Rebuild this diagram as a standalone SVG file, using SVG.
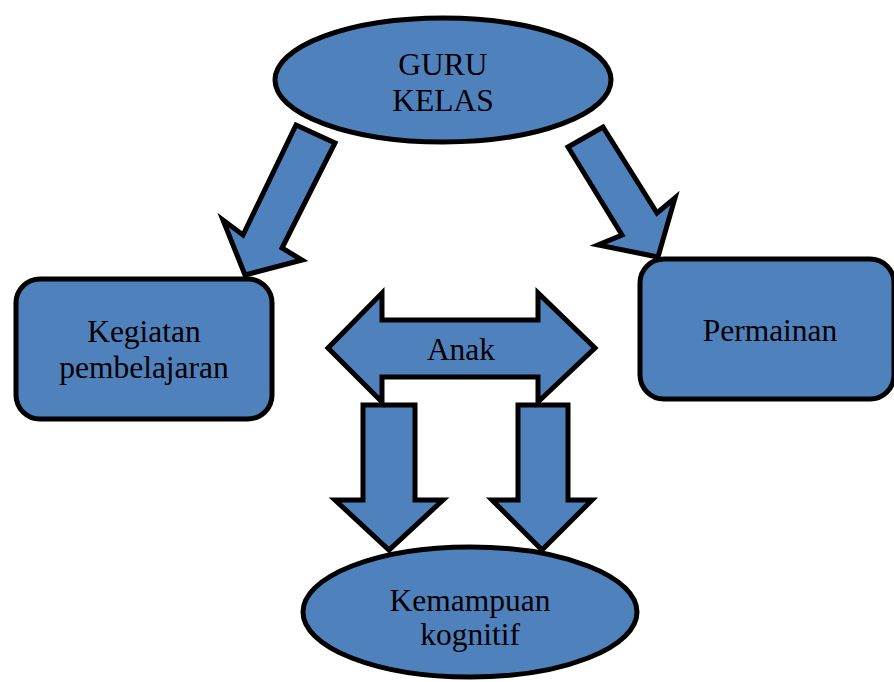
<svg xmlns="http://www.w3.org/2000/svg" width="894" height="682" viewBox="0 0 894 682">
<style>
.s{fill:#4F81BD;stroke:#000;stroke-width:5;stroke-linejoin:miter}
.t{font-family:"Liberation Serif","Times New Roman",serif;font-size:31.5px;fill:#000;text-anchor:middle}
</style>
<rect width="894" height="682" fill="#fff"/>
<g id="connectors">
<polygon class="s" points="296,125 335,143 282,248 302,260 245,275 223,220 243,235"/>
<polygon class="s" points="568,147 603,127 657,213 675,198 658,257 598,245 622,235"/>
<polygon class="s" points="363,405 415,405 415,500 443,500 389,550 335,500 363,500"/>
<polygon class="s" points="518,405 568,405 568,500 592,500 542,550 492,500 518,500"/>
</g>
<g id="guru">
<ellipse class="s" cx="443" cy="80" rx="168" ry="62"/>
<text class="t" x="443" y="75">GURU</text>
<text class="t" x="443" y="111">KELAS</text>
</g>
<g id="kegiatan">
<rect class="s" x="16" y="279" width="256" height="140" rx="24"/>
<text class="t" x="144" y="342">Kegiatan</text>
<text class="t" x="144" y="378">pembelajaran</text>
</g>
<g id="permainan">
<rect class="s" x="640" y="259" width="254" height="140" rx="24"/>
<text class="t" x="770" y="341">Permainan</text>
</g>
<g id="anak">
<polygon class="s" points="328,348 382,293 382,320 538,320 538,293 595,348 538,402 538,377 382,377 382,402"/>
<text class="t" x="461" y="360">Anak</text>
</g>
<g id="kemampuan">
<ellipse class="s" cx="470" cy="612" rx="167" ry="65"/>
<text class="t" x="470" y="611">Kemampuan</text>
<text class="t" x="470" y="645">kognitif</text>
</g>
</svg>
